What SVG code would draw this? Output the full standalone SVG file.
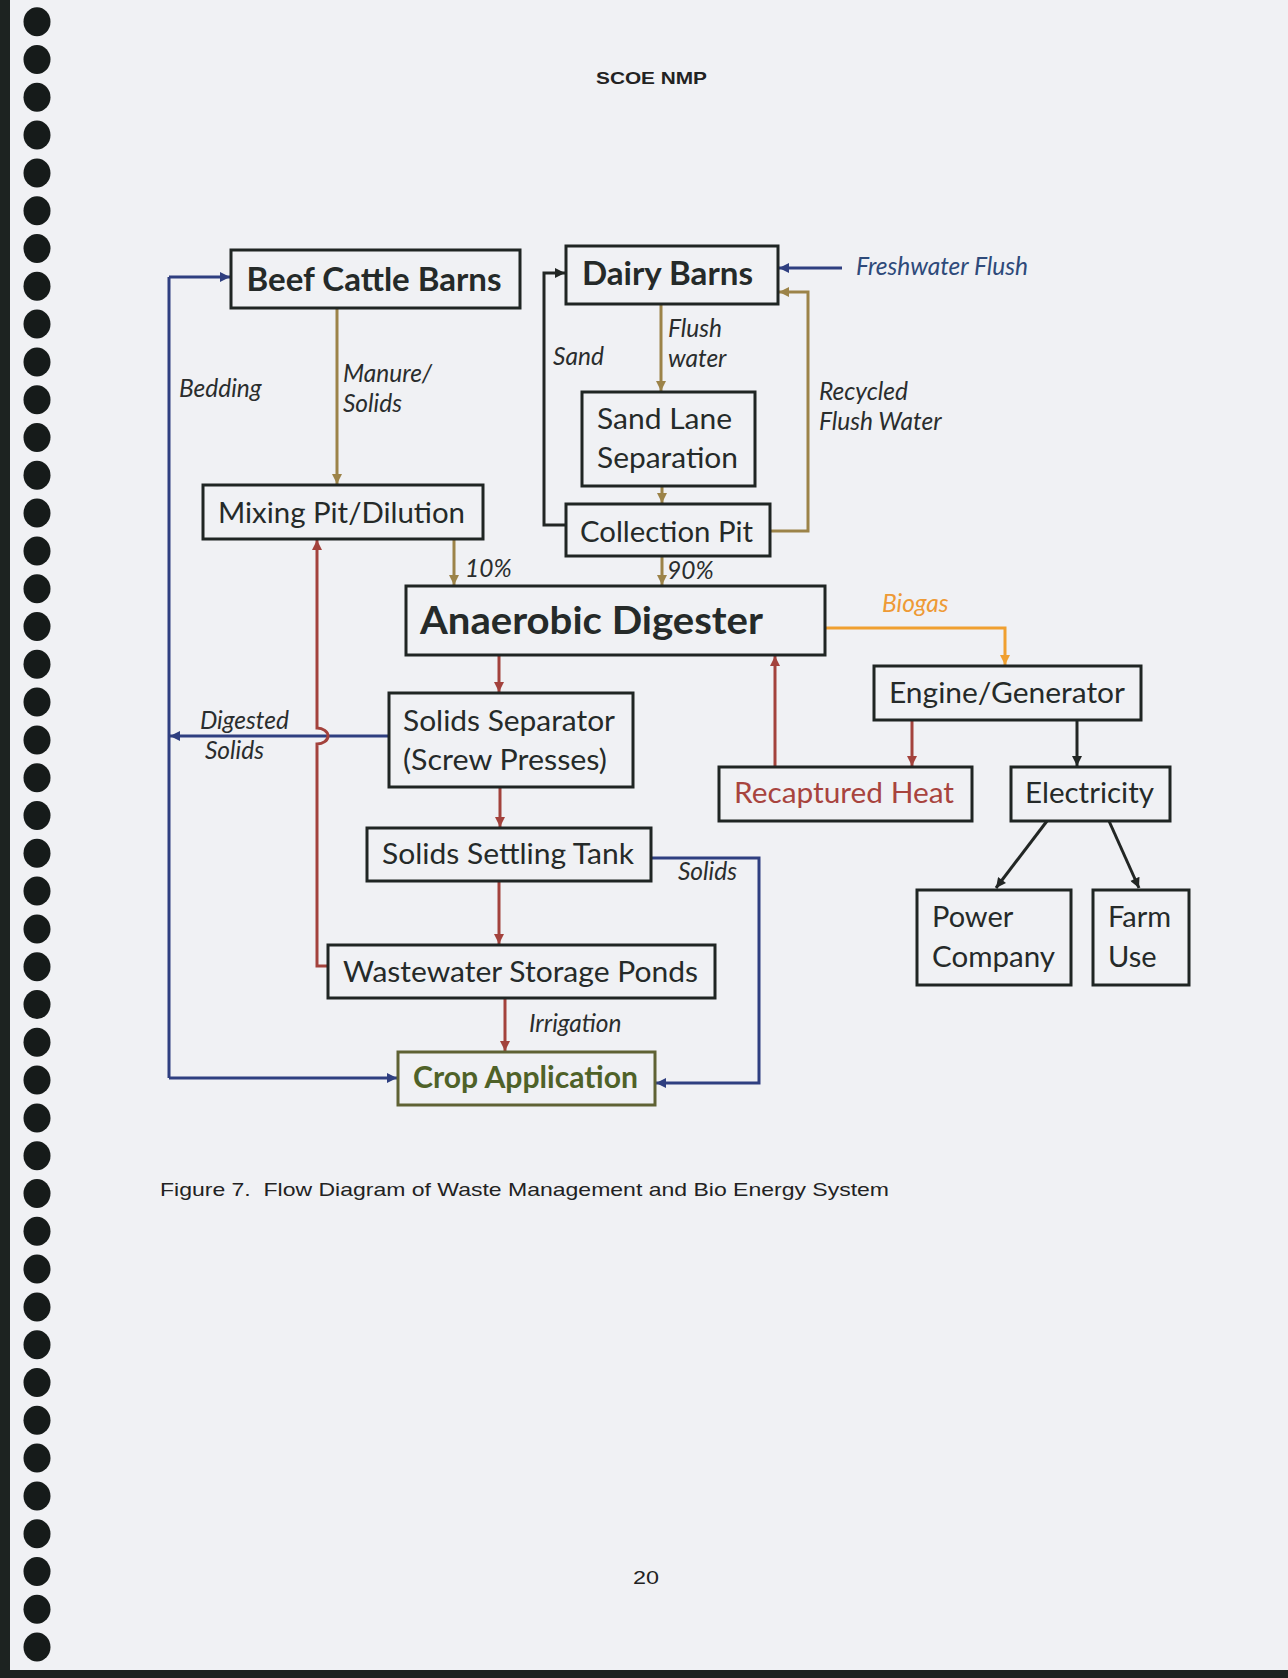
<svg xmlns="http://www.w3.org/2000/svg" width="1288" height="1678" viewBox="0 0 1288 1678">
<style>
.box{fill:none;stroke:#1f2523;stroke-width:3}
.t{font-family:Lato,"Liberation Sans",sans-serif;fill:#252a29;font-size:29px}
.tb{font-family:Lato,"Liberation Sans",sans-serif;fill:#252a29;font-weight:bold;font-size:32px}
.lab{font-family:Lato,"Liberation Sans",sans-serif;fill:#2a2d2d;font-style:italic;font-size:24.5px}
.pg{font-family:"Liberation Sans",Arial,sans-serif;fill:#222}
.c{fill:none;stroke-width:3}
.tan{stroke:#9c8348}
.red{stroke:#a3423c}
.blue{stroke:#2f3f80}
.blk{stroke:#222624}
.org{stroke:#f0a030}
.hole{fill:#161b1a}
</style>
<defs>
<marker id="aTan" viewBox="0 0 10 10" refX="10" refY="5" markerWidth="12" markerHeight="10" markerUnits="userSpaceOnUse" orient="auto"><path d="M0,0 L10,5 L0,10 z" fill="#9c8348"/></marker>
<marker id="aRed" viewBox="0 0 10 10" refX="10" refY="5" markerWidth="12" markerHeight="10" markerUnits="userSpaceOnUse" orient="auto"><path d="M0,0 L10,5 L0,10 z" fill="#a3423c"/></marker>
<marker id="aBlue" viewBox="0 0 10 10" refX="10" refY="5" markerWidth="12" markerHeight="10" markerUnits="userSpaceOnUse" orient="auto"><path d="M0,0 L10,5 L0,10 z" fill="#2f3f80"/></marker>
<marker id="aBlk" viewBox="0 0 10 10" refX="10" refY="5" markerWidth="12" markerHeight="10" markerUnits="userSpaceOnUse" orient="auto"><path d="M0,0 L10,5 L0,10 z" fill="#222624"/></marker>
<marker id="aOrg" viewBox="0 0 10 10" refX="10" refY="5" markerWidth="12" markerHeight="10" markerUnits="userSpaceOnUse" orient="auto"><path d="M0,0 L10,5 L0,10 z" fill="#f0a030"/></marker>
</defs>

<rect x="0" y="0" width="1288" height="1678" fill="#f0f1f4"/>

<g id="page">
<rect x="0" y="0" width="10" height="1678" fill="#1d2321"/>
<rect x="0" y="1670" width="1288" height="8" fill="#1d2321"/>
<g id="holes">
<ellipse class="hole" cx="37" cy="21.7" rx="13.5" ry="14.5"/>
<ellipse class="hole" cx="37" cy="59.5" rx="13.5" ry="14.5"/>
<ellipse class="hole" cx="37" cy="97.3" rx="13.5" ry="14.5"/>
<ellipse class="hole" cx="37" cy="135.1" rx="13.5" ry="14.5"/>
<ellipse class="hole" cx="37" cy="172.9" rx="13.5" ry="14.5"/>
<ellipse class="hole" cx="37" cy="210.7" rx="13.5" ry="14.5"/>
<ellipse class="hole" cx="37" cy="248.5" rx="13.5" ry="14.5"/>
<ellipse class="hole" cx="37" cy="286.3" rx="13.5" ry="14.5"/>
<ellipse class="hole" cx="37" cy="324.1" rx="13.5" ry="14.5"/>
<ellipse class="hole" cx="37" cy="361.9" rx="13.5" ry="14.5"/>
<ellipse class="hole" cx="37" cy="399.7" rx="13.5" ry="14.5"/>
<ellipse class="hole" cx="37" cy="437.5" rx="13.5" ry="14.5"/>
<ellipse class="hole" cx="37" cy="475.3" rx="13.5" ry="14.5"/>
<ellipse class="hole" cx="37" cy="513.1" rx="13.5" ry="14.5"/>
<ellipse class="hole" cx="37" cy="550.9" rx="13.5" ry="14.5"/>
<ellipse class="hole" cx="37" cy="588.7" rx="13.5" ry="14.5"/>
<ellipse class="hole" cx="37" cy="626.5" rx="13.5" ry="14.5"/>
<ellipse class="hole" cx="37" cy="664.3" rx="13.5" ry="14.5"/>
<ellipse class="hole" cx="37" cy="702.1" rx="13.5" ry="14.5"/>
<ellipse class="hole" cx="37" cy="739.9" rx="13.5" ry="14.5"/>
<ellipse class="hole" cx="37" cy="777.7" rx="13.5" ry="14.5"/>
<ellipse class="hole" cx="37" cy="815.5" rx="13.5" ry="14.5"/>
<ellipse class="hole" cx="37" cy="853.3" rx="13.5" ry="14.5"/>
<ellipse class="hole" cx="37" cy="891.1" rx="13.5" ry="14.5"/>
<ellipse class="hole" cx="37" cy="928.9" rx="13.5" ry="14.5"/>
<ellipse class="hole" cx="37" cy="966.7" rx="13.5" ry="14.5"/>
<ellipse class="hole" cx="37" cy="1004.5" rx="13.5" ry="14.5"/>
<ellipse class="hole" cx="37" cy="1042.3" rx="13.5" ry="14.5"/>
<ellipse class="hole" cx="37" cy="1080.1" rx="13.5" ry="14.5"/>
<ellipse class="hole" cx="37" cy="1117.9" rx="13.5" ry="14.5"/>
<ellipse class="hole" cx="37" cy="1155.7" rx="13.5" ry="14.5"/>
<ellipse class="hole" cx="37" cy="1193.5" rx="13.5" ry="14.5"/>
<ellipse class="hole" cx="37" cy="1231.3" rx="13.5" ry="14.5"/>
<ellipse class="hole" cx="37" cy="1269.1" rx="13.5" ry="14.5"/>
<ellipse class="hole" cx="37" cy="1306.9" rx="13.5" ry="14.5"/>
<ellipse class="hole" cx="37" cy="1344.7" rx="13.5" ry="14.5"/>
<ellipse class="hole" cx="37" cy="1382.5" rx="13.5" ry="14.5"/>
<ellipse class="hole" cx="37" cy="1420.3" rx="13.5" ry="14.5"/>
<ellipse class="hole" cx="37" cy="1458.1" rx="13.5" ry="14.5"/>
<ellipse class="hole" cx="37" cy="1495.9" rx="13.5" ry="14.5"/>
<ellipse class="hole" cx="37" cy="1533.7" rx="13.5" ry="14.5"/>
<ellipse class="hole" cx="37" cy="1571.5" rx="13.5" ry="14.5"/>
<ellipse class="hole" cx="37" cy="1609.3" rx="13.5" ry="14.5"/>
<ellipse class="hole" cx="37" cy="1647.1" rx="13.5" ry="14.5"/>
</g>
<text class="pg" x="596" y="84" font-size="17" font-weight="bold" textLength="111" lengthAdjust="spacingAndGlyphs">SCOE NMP</text>
<text class="pg" x="160" y="1196" font-size="18.5" textLength="729" lengthAdjust="spacingAndGlyphs" xml:space="preserve">Figure 7.  Flow Diagram of Waste Management and Bio Energy System</text>
<text class="pg" x="633" y="1584" font-size="19" textLength="26" lengthAdjust="spacingAndGlyphs">20</text>
</g>

<g id="connectors">
<path class="c tan" d="M337,308 V484" marker-end="url(#aTan)"/>
<path class="c tan" d="M454,539 V585" marker-end="url(#aTan)"/>
<path class="c blk" d="M566,525 H544 V273 H565" marker-end="url(#aBlk)"/>
<path class="c tan" d="M661,304 V391" marker-end="url(#aTan)"/>
<path class="c tan" d="M662,486 V503" marker-end="url(#aTan)"/>
<path class="c tan" d="M770,531 H808 V292 H779" marker-end="url(#aTan)"/>
<path class="c blue" d="M842,268 H779" marker-end="url(#aBlue)"/>
<path class="c tan" d="M662,556 V585" marker-end="url(#aTan)"/>
<path class="c red" d="M499,655 V692" marker-end="url(#aRed)"/>
<path class="c red" d="M500,787 V827" marker-end="url(#aRed)"/>
<path class="c red" d="M499,881 V944" marker-end="url(#aRed)"/>
<path class="c red" d="M505,998 V1051" marker-end="url(#aRed)"/>
<path class="c blue" d="M169,277 V1078"/>
<path class="c blue" d="M169,277 H230" marker-end="url(#aBlue)"/>
<path class="c blue" d="M169,1078 H397" marker-end="url(#aBlue)"/>
<path class="c blue" d="M389,736 H170" marker-end="url(#aBlue)"/>
<path class="c red" d="M328,966 H317 V744 A11 8 0 0 0 317,728 V540" marker-end="url(#aRed)"/>
<path class="c blue" d="M651,858 H759 V1083 H656" marker-end="url(#aBlue)"/>
<path class="c org" d="M825,628 H1005 V665" marker-end="url(#aOrg)"/>
<path class="c red" d="M912,720 V766" marker-end="url(#aRed)"/>
<path class="c blk" d="M1077,720 V766" marker-end="url(#aBlk)"/>
<path class="c red" d="M775,767 V656" marker-end="url(#aRed)"/>
<path class="c blk" d="M1047,821 L996,888" marker-end="url(#aBlk)"/>
<path class="c blk" d="M1109,821 L1139,888" marker-end="url(#aBlk)"/>
</g>

<g id="labels">
<text class="lab" x="179" y="397">Bedding</text>
<text class="lab" x="343" y="382">Manure/</text>
<text class="lab" x="343" y="412">Solids</text>
<text class="lab" x="553" y="365">Sand</text>
<text class="lab" x="668" y="337">Flush</text>
<text class="lab" x="668" y="367">water</text>
<text class="lab" x="856" y="275" style="fill:#2e4a7a" textLength="172" lengthAdjust="spacingAndGlyphs">Freshwater Flush</text>
<text class="lab" x="819" y="400">Recycled</text>
<text class="lab" x="819" y="430">Flush Water</text>
<text class="lab" x="465" y="577">10%</text>
<text class="lab" x="667" y="579">90%</text>
<text class="lab" x="882" y="612" style="fill:#ee9a35">Biogas</text>
<text class="lab" x="200" y="729">Digested</text>
<text class="lab" x="205" y="759">Solids</text>
<text class="lab" x="678" y="880">Solids</text>
<text class="lab" x="529" y="1032">Irrigation</text>
</g>

<g id="beef">
<rect class="box" x="231" y="250" width="289" height="58"/>
<text class="tb" x="246.5" y="291" textLength="255" lengthAdjust="spacingAndGlyphs">Beef Cattle Barns</text>
</g>
<g id="dairy">
<rect class="box" x="566" y="246" width="212" height="58"/>
<text class="tb" x="582" y="285" textLength="171" lengthAdjust="spacingAndGlyphs">Dairy Barns</text>
</g>
<g id="sandlane">
<rect class="box" x="582" y="392" width="173" height="94"/>
<text class="t" x="597" y="429" textLength="135" lengthAdjust="spacingAndGlyphs">Sand Lane</text>
<text class="t" x="597" y="468" textLength="141" lengthAdjust="spacingAndGlyphs">Separation</text>
</g>
<g id="collection">
<rect class="box" x="566" y="504" width="204" height="52"/>
<text class="t" x="580" y="542" textLength="173" lengthAdjust="spacingAndGlyphs">Collection Pit</text>
</g>
<g id="mixing">
<rect class="box" x="203" y="485" width="280" height="54"/>
<text class="t" x="218" y="523" textLength="247" lengthAdjust="spacingAndGlyphs">Mixing Pit/Dilution</text>
</g>
<g id="digester">
<rect class="box" x="406" y="586" width="419" height="69"/>
<text class="tb" x="420" y="634" style="font-size:38px" textLength="343" lengthAdjust="spacingAndGlyphs">Anaerobic Digester</text>
</g>
<g id="separator">
<rect class="box" x="389" y="693" width="244" height="94"/>
<text class="t" x="403" y="731" textLength="212" lengthAdjust="spacingAndGlyphs">Solids Separator</text>
<text class="t" x="403" y="770" textLength="204" lengthAdjust="spacingAndGlyphs">(Screw Presses)</text>
</g>
<g id="settling">
<rect class="box" x="367" y="828" width="284" height="53"/>
<text class="t" x="382" y="864" textLength="252" lengthAdjust="spacingAndGlyphs">Solids Settling Tank</text>
</g>
<g id="ponds">
<rect class="box" x="328" y="945" width="387" height="53"/>
<text class="t" x="343" y="982" textLength="355" lengthAdjust="spacingAndGlyphs">Wastewater Storage Ponds</text>
</g>
<g id="crop">
<rect class="box" x="398" y="1052" width="257" height="53" style="stroke:#5f6234"/>
<text class="tb" x="413" y="1088" style="fill:#4f6228;font-size:29.5px" textLength="225" lengthAdjust="spacingAndGlyphs">Crop Application</text>
</g>
<g id="engine">
<rect class="box" x="874" y="666" width="267" height="54"/>
<text class="t" x="889" y="703" textLength="236" lengthAdjust="spacingAndGlyphs">Engine/Generator</text>
</g>
<g id="heat">
<rect class="box" x="719" y="767" width="253" height="54"/>
<text class="t" x="734" y="803" style="fill:#a8443e" textLength="220" lengthAdjust="spacingAndGlyphs">Recaptured Heat</text>
</g>
<g id="electricity">
<rect class="box" x="1011" y="767" width="159" height="54"/>
<text class="t" x="1025" y="803" textLength="129" lengthAdjust="spacingAndGlyphs">Electricity</text>
</g>
<g id="power">
<rect class="box" x="917" y="890" width="154" height="95"/>
<text class="t" x="932" y="927">Power</text>
<text class="t" x="932" y="967" textLength="123" lengthAdjust="spacingAndGlyphs">Company</text>
</g>
<g id="farm">
<rect class="box" x="1093" y="890" width="96" height="95"/>
<text class="t" x="1108" y="927">Farm</text>
<text class="t" x="1108" y="967">Use</text>
</g>
</svg>
